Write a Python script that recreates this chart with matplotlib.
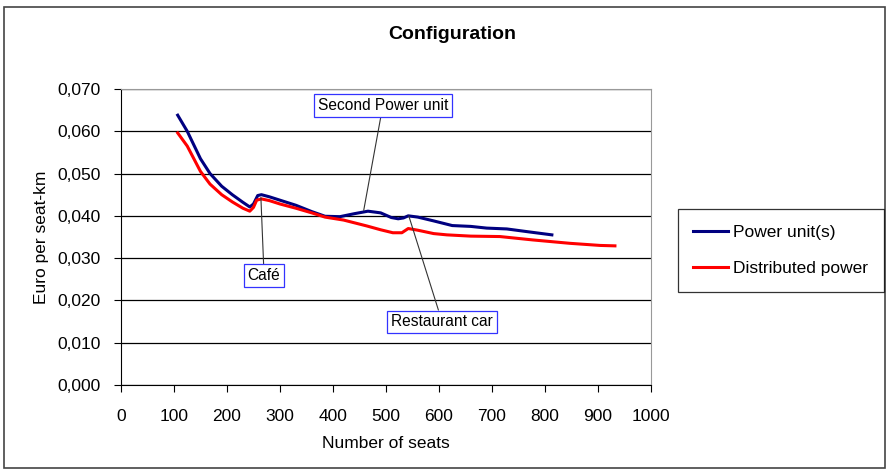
import matplotlib
matplotlib.use("Agg")
import matplotlib.pyplot as plt
from matplotlib.patches import Rectangle
from matplotlib.ticker import FuncFormatter

plt.rcParams['font.family'] = ['Liberation Sans', 'DejaVu Sans']

# data
seats_pu = [107, 125, 150, 168, 190, 210, 230, 243, 250, 258, 265, 280, 300, 330,
            360, 385, 413, 440, 466, 490, 510, 523, 533, 542, 560, 590, 625, 660,
            690, 728, 770, 813]
cost_pu = [0.0638, 0.0600, 0.0535, 0.0500, 0.0470, 0.0450, 0.0432, 0.0421, 0.0428,
           0.0448, 0.0450, 0.0445, 0.0437, 0.0425, 0.0410, 0.0399, 0.0398, 0.0405,
           0.0411, 0.0407, 0.0396, 0.0393, 0.0395, 0.0400, 0.0397, 0.0388, 0.0377,
           0.0375, 0.0371, 0.0369, 0.0362, 0.0355]

seats_dp = [107, 125, 150, 168, 190, 210, 230, 243, 250, 256, 265, 280, 300, 330,
            360, 385, 420, 464, 490, 513, 530, 542, 560, 590, 615, 660, 715, 777,
            847, 904, 932]
cost_dp = [0.0596, 0.0565, 0.0505, 0.0475, 0.0450, 0.0433, 0.0418, 0.0411, 0.0420,
           0.0437, 0.0440, 0.0436, 0.0428, 0.0418, 0.0407, 0.0397, 0.0390, 0.0376,
           0.0367, 0.0360, 0.0360, 0.0370, 0.0366, 0.0358, 0.0355, 0.0352, 0.0351,
           0.0343, 0.0335, 0.0330, 0.0329]

x_ticks = [0, 100, 200, 300, 400, 500, 600, 700, 800, 900, 1000]
y_ticks = [0.0, 0.01, 0.02, 0.03, 0.04, 0.05, 0.06, 0.07]

notes = ["Second Power unit", "Café", "Restaurant car"]
note_points = [(458, 0.0413), (264, 0.0443), (543, 0.0400)]
note_text = [(494, 0.0660), (270, 0.0258), (606, 0.0149)]

fig = plt.figure(figsize=(8.87, 4.70), dpi=100)
ax = fig.add_axes([0.1364, 0.1809, 0.5975, 0.6298])

fig.patches.append(Rectangle((0.005, 0.004), 0.993, 0.981, transform=fig.transFigure,
                             fill=False, edgecolor='#444444', lw=1.2))

ax.plot(seats_pu, cost_pu, color='#000080', lw=2.2, label='Power unit(s)')
ax.plot(seats_dp, cost_dp, color='#ff0000', lw=2.2, label='Distributed power')

ax.set_xlim(0, 1000)
ax.set_ylim(0, 0.07)
ax.set_xticks(x_ticks)
ax.set_yticks(y_ticks)
ax.yaxis.set_major_formatter(FuncFormatter(lambda v, p: ('%.3f' % v).replace('.', ',')))
ax.grid(axis='y', color='black', lw=0.9)
ax.set_axisbelow(True)
ax.tick_params(labelsize=12.5, direction='out', length=5, color='black')
ax.tick_params(axis='x', pad=12)
ax.tick_params(axis='y', pad=9.5)

for s in ['top', 'right']:
    ax.spines[s].set_color('#999999')
for s in ['left', 'bottom']:
    ax.spines[s].set_color('black')

ax.set_xlabel('Number of seats', fontsize=12.5, labelpad=9)
ax.set_ylabel('Euro per seat-km', fontsize=12.5, labelpad=6)
fig.text(0.51, 0.926, 'Configuration', fontsize=14, fontweight='bold',
         ha='center', va='center')

for txt, pt, tp in zip(notes, note_points, note_text):
    ax.annotate(txt, xy=pt, xytext=tp, fontsize=11.2, ha='center', va='center',
                bbox=dict(boxstyle='square,pad=0.25', fc='white', ec='#3333ff', lw=0.9),
                arrowprops=dict(arrowstyle='-', color='#333333', lw=0.8,
                                shrinkA=0, shrinkB=0))

leg = fig.legend(loc='upper left', bbox_to_anchor=(0.764, 0.555), fontsize=12.5,
                 frameon=True, fancybox=False, edgecolor='black', labelspacing=1.2,
                 handlelength=2.0, handletextpad=0.3, borderpad=0.9,
                 borderaxespad=0)
leg.get_frame().set_linewidth(0.9)

fig.savefig('out.png', dpi=100)
